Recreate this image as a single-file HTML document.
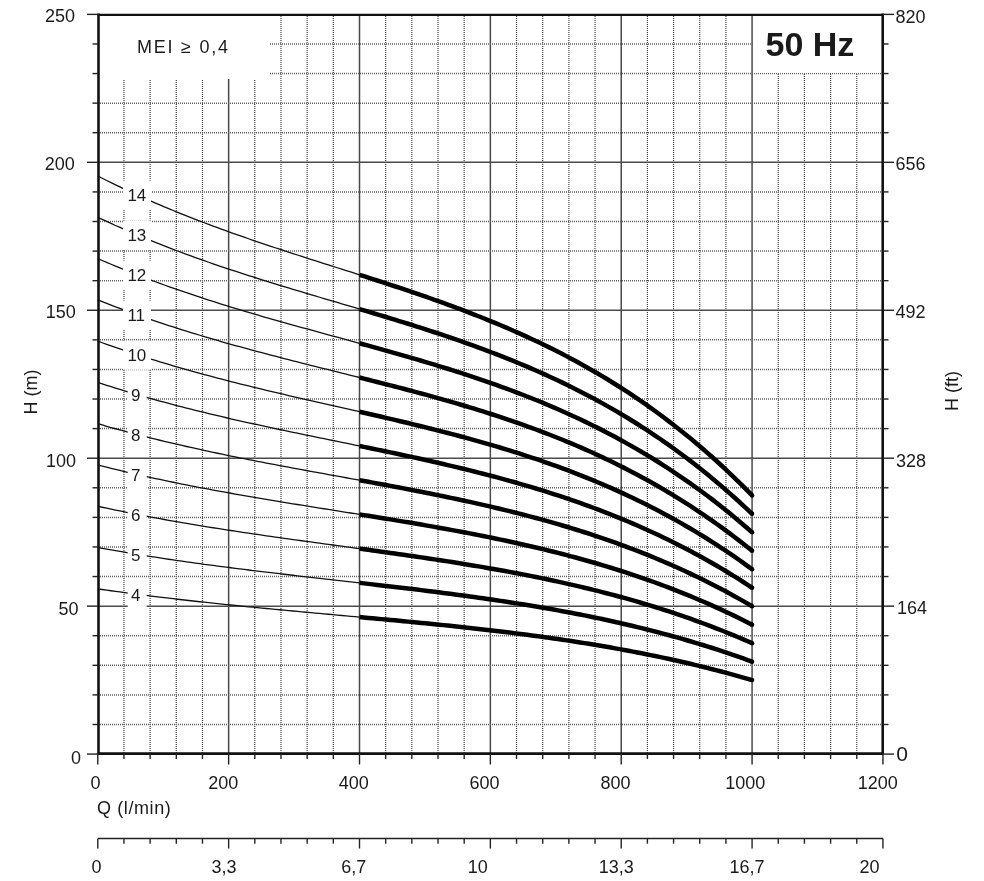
<!DOCTYPE html>
<html><head><meta charset="utf-8"><style>
html,body{margin:0;padding:0;background:#fff;}
body{width:984px;height:881px;position:relative;overflow:hidden;filter:grayscale(1);font-family:"Liberation Sans",sans-serif;color:#1a1a1a;}
</style></head><body>
<svg width="984" height="881" viewBox="0 0 984 881" style="position:absolute;left:0;top:0">
<line x1="123.95" y1="14" x2="123.95" y2="753" stroke="#3c3c3c" stroke-width="1.2" stroke-dasharray="1 1"/>
<line x1="150.12" y1="14" x2="150.12" y2="753" stroke="#3c3c3c" stroke-width="1.2" stroke-dasharray="1 1"/>
<line x1="176.30" y1="14" x2="176.30" y2="753" stroke="#3c3c3c" stroke-width="1.2" stroke-dasharray="1 1"/>
<line x1="202.47" y1="14" x2="202.47" y2="753" stroke="#3c3c3c" stroke-width="1.2" stroke-dasharray="1 1"/>
<line x1="228.64" y1="14" x2="228.64" y2="753" stroke="#4a4a4a" stroke-width="1.5"/>
<line x1="254.81" y1="14" x2="254.81" y2="753" stroke="#3c3c3c" stroke-width="1.2" stroke-dasharray="1 1"/>
<line x1="280.98" y1="14" x2="280.98" y2="753" stroke="#3c3c3c" stroke-width="1.2" stroke-dasharray="1 1"/>
<line x1="307.16" y1="14" x2="307.16" y2="753" stroke="#3c3c3c" stroke-width="1.2" stroke-dasharray="1 1"/>
<line x1="333.33" y1="14" x2="333.33" y2="753" stroke="#3c3c3c" stroke-width="1.2" stroke-dasharray="1 1"/>
<line x1="359.50" y1="14" x2="359.50" y2="753" stroke="#4a4a4a" stroke-width="1.5"/>
<line x1="385.67" y1="14" x2="385.67" y2="753" stroke="#3c3c3c" stroke-width="1.2" stroke-dasharray="1 1"/>
<line x1="411.84" y1="14" x2="411.84" y2="753" stroke="#3c3c3c" stroke-width="1.2" stroke-dasharray="1 1"/>
<line x1="438.02" y1="14" x2="438.02" y2="753" stroke="#3c3c3c" stroke-width="1.2" stroke-dasharray="1 1"/>
<line x1="464.19" y1="14" x2="464.19" y2="753" stroke="#3c3c3c" stroke-width="1.2" stroke-dasharray="1 1"/>
<line x1="490.36" y1="14" x2="490.36" y2="753" stroke="#4a4a4a" stroke-width="1.5"/>
<line x1="516.53" y1="14" x2="516.53" y2="753" stroke="#3c3c3c" stroke-width="1.2" stroke-dasharray="1 1"/>
<line x1="542.70" y1="14" x2="542.70" y2="753" stroke="#3c3c3c" stroke-width="1.2" stroke-dasharray="1 1"/>
<line x1="568.88" y1="14" x2="568.88" y2="753" stroke="#3c3c3c" stroke-width="1.2" stroke-dasharray="1 1"/>
<line x1="595.05" y1="14" x2="595.05" y2="753" stroke="#3c3c3c" stroke-width="1.2" stroke-dasharray="1 1"/>
<line x1="621.22" y1="14" x2="621.22" y2="753" stroke="#4a4a4a" stroke-width="1.5"/>
<line x1="647.39" y1="14" x2="647.39" y2="753" stroke="#3c3c3c" stroke-width="1.2" stroke-dasharray="1 1"/>
<line x1="673.56" y1="14" x2="673.56" y2="753" stroke="#3c3c3c" stroke-width="1.2" stroke-dasharray="1 1"/>
<line x1="699.74" y1="14" x2="699.74" y2="753" stroke="#3c3c3c" stroke-width="1.2" stroke-dasharray="1 1"/>
<line x1="725.91" y1="14" x2="725.91" y2="753" stroke="#3c3c3c" stroke-width="1.2" stroke-dasharray="1 1"/>
<line x1="752.08" y1="14" x2="752.08" y2="753" stroke="#4a4a4a" stroke-width="1.5"/>
<line x1="778.25" y1="14" x2="778.25" y2="753" stroke="#3c3c3c" stroke-width="1.2" stroke-dasharray="1 1"/>
<line x1="804.42" y1="14" x2="804.42" y2="753" stroke="#3c3c3c" stroke-width="1.2" stroke-dasharray="1 1"/>
<line x1="830.60" y1="14" x2="830.60" y2="753" stroke="#3c3c3c" stroke-width="1.2" stroke-dasharray="1 1"/>
<line x1="856.77" y1="14" x2="856.77" y2="753" stroke="#3c3c3c" stroke-width="1.2" stroke-dasharray="1 1"/>
<line x1="98" y1="724.49" x2="882" y2="724.49" stroke="#606060" stroke-width="1.5" stroke-dasharray="1 1"/>
<line x1="98" y1="694.90" x2="882" y2="694.90" stroke="#606060" stroke-width="1.5" stroke-dasharray="1 1"/>
<line x1="98" y1="665.32" x2="882" y2="665.32" stroke="#606060" stroke-width="1.5" stroke-dasharray="1 1"/>
<line x1="98" y1="635.73" x2="882" y2="635.73" stroke="#606060" stroke-width="1.5" stroke-dasharray="1 1"/>
<line x1="98" y1="606.14" x2="882" y2="606.14" stroke="#4a4a4a" stroke-width="1.5"/>
<line x1="98" y1="576.55" x2="882" y2="576.55" stroke="#606060" stroke-width="1.5" stroke-dasharray="1 1"/>
<line x1="98" y1="546.96" x2="882" y2="546.96" stroke="#606060" stroke-width="1.5" stroke-dasharray="1 1"/>
<line x1="98" y1="517.38" x2="882" y2="517.38" stroke="#606060" stroke-width="1.5" stroke-dasharray="1 1"/>
<line x1="98" y1="487.79" x2="882" y2="487.79" stroke="#606060" stroke-width="1.5" stroke-dasharray="1 1"/>
<line x1="98" y1="458.20" x2="882" y2="458.20" stroke="#4a4a4a" stroke-width="1.5"/>
<line x1="98" y1="428.61" x2="882" y2="428.61" stroke="#606060" stroke-width="1.5" stroke-dasharray="1 1"/>
<line x1="98" y1="399.02" x2="882" y2="399.02" stroke="#606060" stroke-width="1.5" stroke-dasharray="1 1"/>
<line x1="98" y1="369.44" x2="882" y2="369.44" stroke="#606060" stroke-width="1.5" stroke-dasharray="1 1"/>
<line x1="98" y1="339.85" x2="882" y2="339.85" stroke="#606060" stroke-width="1.5" stroke-dasharray="1 1"/>
<line x1="98" y1="310.26" x2="882" y2="310.26" stroke="#4a4a4a" stroke-width="1.5"/>
<line x1="98" y1="280.67" x2="882" y2="280.67" stroke="#606060" stroke-width="1.5" stroke-dasharray="1 1"/>
<line x1="98" y1="251.08" x2="882" y2="251.08" stroke="#606060" stroke-width="1.5" stroke-dasharray="1 1"/>
<line x1="98" y1="221.50" x2="882" y2="221.50" stroke="#606060" stroke-width="1.5" stroke-dasharray="1 1"/>
<line x1="98" y1="191.91" x2="882" y2="191.91" stroke="#606060" stroke-width="1.5" stroke-dasharray="1 1"/>
<line x1="98" y1="162.32" x2="882" y2="162.32" stroke="#4a4a4a" stroke-width="1.5"/>
<line x1="98" y1="132.73" x2="882" y2="132.73" stroke="#606060" stroke-width="1.5" stroke-dasharray="1 1"/>
<line x1="98" y1="103.14" x2="882" y2="103.14" stroke="#606060" stroke-width="1.5" stroke-dasharray="1 1"/>
<line x1="98" y1="73.56" x2="882" y2="73.56" stroke="#606060" stroke-width="1.5" stroke-dasharray="1 1"/>
<line x1="98" y1="43.97" x2="882" y2="43.97" stroke="#606060" stroke-width="1.5" stroke-dasharray="1 1"/>
<rect x="99" y="15" width="171" height="64" fill="#fff"/>
<rect x="753.5" y="15" width="128" height="58" fill="#fff"/>
<polyline points="97.78,588.85 102.22,589.50 106.65,590.13 111.09,590.76 115.52,591.37 119.96,591.98 124.40,592.59 128.83,593.18 133.27,593.77 137.70,594.34 142.14,594.91 146.58,595.48 151.01,596.03 155.45,596.58 159.88,597.13 164.32,597.66 168.75,598.19 173.19,598.72 177.63,599.23 182.06,599.74 186.50,600.25 190.93,600.75 195.37,601.24 199.81,601.73 204.24,602.21 208.68,602.69 213.11,603.16 217.55,603.63 221.99,604.09 226.42,604.55 230.86,605.01 235.29,605.46 239.73,605.91 244.17,606.35 248.60,606.79 253.04,607.22 257.47,607.66 261.91,608.09 266.35,608.51 270.78,608.94 275.22,609.36 279.65,609.77 284.09,610.19 288.53,610.61 292.96,611.02 297.40,611.43 301.83,611.84 306.27,612.24 310.70,612.65 315.14,613.06 319.58,613.46 324.01,613.86 328.45,614.27 332.88,614.67 337.32,615.07 341.76,615.48 346.19,615.88 350.63,616.28 355.06,616.69 359.50,617.09" fill="none" stroke="#111" stroke-width="1.3"/>
<polyline points="359.50,617.09 363.91,617.49 368.32,617.90 372.73,618.30 377.14,618.71 381.56,619.12 385.97,619.53 390.38,619.95 394.79,620.36 399.20,620.78 403.61,621.20 408.02,621.62 412.43,622.05 416.84,622.48 421.25,622.91 425.67,623.35 430.08,623.79 434.49,624.23 438.90,624.68 443.31,625.13 447.72,625.59 452.13,626.05 456.54,626.52 460.95,626.99 465.36,627.47 469.78,627.95 474.19,628.44 478.60,628.93 483.01,629.43 487.42,629.94 491.83,630.45 496.24,630.97 500.65,631.50 505.06,632.04 509.47,632.58 513.89,633.13 518.30,633.69 522.71,634.25 527.12,634.83 531.53,635.41 535.94,636.00 540.35,636.60 544.76,637.21 549.17,637.82 553.58,638.45 558.00,639.09 562.41,639.74 566.82,640.39 571.23,641.06 575.64,641.74 580.05,642.43 584.46,643.13 588.87,643.84 593.28,644.56 597.69,645.29 602.11,646.04 606.52,646.80 610.93,647.57 615.34,648.35 619.75,649.15 624.16,649.96 628.57,650.78 632.98,651.61 637.39,652.46 641.80,653.33 646.22,654.20 650.63,655.10 655.04,656.00 659.45,656.92 663.86,657.86 668.27,658.81 672.68,659.78 677.09,660.76 681.50,661.76 685.91,662.77 690.33,663.81 694.74,664.85 699.15,665.92 703.56,667.00 707.97,668.10 712.38,669.22 716.79,670.35 721.20,671.51 725.61,672.68 730.02,673.87 734.44,675.08 738.85,676.31 743.26,677.55 747.67,678.82 752.08,680.11" fill="none" stroke="#000" stroke-width="4.5" stroke-linejoin="round"/>
<circle cx="752.08" cy="680.11" r="2.25" fill="#000"/>
<polyline points="97.78,547.57 102.22,548.37 106.65,549.16 111.09,549.95 115.52,550.72 119.96,551.48 124.40,552.23 128.83,552.97 133.27,553.71 137.70,554.43 142.14,555.14 146.58,555.85 151.01,556.54 155.45,557.23 159.88,557.91 164.32,558.58 168.75,559.24 173.19,559.89 177.63,560.54 182.06,561.18 186.50,561.81 190.93,562.43 195.37,563.05 199.81,563.66 204.24,564.27 208.68,564.86 213.11,565.45 217.55,566.04 221.99,566.62 226.42,567.19 230.86,567.76 235.29,568.32 239.73,568.88 244.17,569.44 248.60,569.98 253.04,570.53 257.47,571.07 261.91,571.61 266.35,572.14 270.78,572.67 275.22,573.20 279.65,573.72 284.09,574.24 288.53,574.76 292.96,575.27 297.40,575.78 301.83,576.30 306.27,576.81 310.70,577.31 315.14,577.82 319.58,578.33 324.01,578.83 328.45,579.33 332.88,579.84 337.32,580.34 341.76,580.84 346.19,581.35 350.63,581.85 355.06,582.36 359.50,582.86" fill="none" stroke="#111" stroke-width="1.3"/>
<polyline points="359.50,582.86 363.91,583.37 368.32,583.87 372.73,584.38 377.14,584.89 381.56,585.40 385.97,585.92 390.38,586.43 394.79,586.95 399.20,587.47 403.61,588.00 408.02,588.53 412.43,589.06 416.84,589.60 421.25,590.14 425.67,590.68 430.08,591.23 434.49,591.79 438.90,592.35 443.31,592.91 447.72,593.49 452.13,594.06 456.54,594.65 460.95,595.24 465.36,595.83 469.78,596.44 474.19,597.05 478.60,597.67 483.01,598.29 487.42,598.93 491.83,599.57 496.24,600.22 500.65,600.88 505.06,601.55 509.47,602.22 513.89,602.91 518.30,603.61 522.71,604.31 527.12,605.03 531.53,605.76 535.94,606.50 540.35,607.25 544.76,608.01 549.17,608.78 553.58,609.56 558.00,610.36 562.41,611.17 566.82,611.99 571.23,612.82 575.64,613.67 580.05,614.53 584.46,615.41 588.87,616.30 593.28,617.20 597.69,618.12 602.11,619.05 606.52,620.00 610.93,620.96 615.34,621.94 619.75,622.93 624.16,623.95 628.57,624.97 632.98,626.02 637.39,627.08 641.80,628.16 646.22,629.25 650.63,630.37 655.04,631.50 659.45,632.65 663.86,633.82 668.27,635.01 672.68,636.22 677.09,637.45 681.50,638.70 685.91,639.97 690.33,641.26 694.74,642.57 699.15,643.90 703.56,645.25 707.97,646.63 712.38,648.02 716.79,649.44 721.20,650.88 725.61,652.35 730.02,653.84 734.44,655.35 738.85,656.88 743.26,658.44 747.67,660.03 752.08,661.64" fill="none" stroke="#000" stroke-width="4.5" stroke-linejoin="round"/>
<circle cx="752.08" cy="661.64" r="2.25" fill="#000"/>
<polyline points="97.78,506.28 102.22,507.24 106.65,508.20 111.09,509.14 115.52,510.06 119.96,510.98 124.40,511.88 128.83,512.77 133.27,513.65 137.70,514.52 142.14,515.37 146.58,516.22 151.01,517.05 155.45,517.88 159.88,518.69 164.32,519.49 168.75,520.29 173.19,521.07 177.63,521.85 182.06,522.61 186.50,523.37 190.93,524.12 195.37,524.86 199.81,525.59 204.24,526.32 208.68,527.03 213.11,527.74 217.55,528.45 221.99,529.14 226.42,529.83 230.86,530.51 235.29,531.19 239.73,531.86 244.17,532.52 248.60,533.18 253.04,533.84 257.47,534.48 261.91,535.13 266.35,535.77 270.78,536.40 275.22,537.03 279.65,537.66 284.09,538.29 288.53,538.91 292.96,539.53 297.40,540.14 301.83,540.76 306.27,541.37 310.70,541.98 315.14,542.58 319.58,543.19 324.01,543.80 328.45,544.40 332.88,545.01 337.32,545.61 341.76,546.21 346.19,546.82 350.63,547.42 355.06,548.03 359.50,548.64" fill="none" stroke="#111" stroke-width="1.3"/>
<polyline points="359.50,548.64 363.91,549.24 368.32,549.85 372.73,550.46 377.14,551.07 381.56,551.68 385.97,552.30 390.38,552.92 394.79,553.54 399.20,554.17 403.61,554.80 408.02,555.43 412.43,556.07 416.84,556.72 421.25,557.36 425.67,558.02 430.08,558.68 434.49,559.35 438.90,560.02 443.31,560.70 447.72,561.38 452.13,562.08 456.54,562.78 460.95,563.48 465.36,564.20 469.78,564.92 474.19,565.66 478.60,566.40 483.01,567.15 487.42,567.91 491.83,568.68 496.24,569.46 500.65,570.25 505.06,571.06 509.47,571.87 513.89,572.69 518.30,573.53 522.71,574.38 527.12,575.24 531.53,576.11 535.94,577.00 540.35,577.90 544.76,578.81 549.17,579.74 553.58,580.68 558.00,581.63 562.41,582.60 566.82,583.59 571.23,584.59 575.64,585.61 580.05,586.64 584.46,587.69 588.87,588.76 593.28,589.84 597.69,590.94 602.11,592.06 606.52,593.20 610.93,594.35 615.34,595.53 619.75,596.72 624.16,597.94 628.57,599.17 632.98,600.42 637.39,601.70 641.80,602.99 646.22,604.31 650.63,605.64 655.04,607.00 659.45,608.38 663.86,609.79 668.27,611.22 672.68,612.67 677.09,614.14 681.50,615.64 685.91,617.16 690.33,618.71 694.74,620.28 699.15,621.88 703.56,623.50 707.97,625.15 712.38,626.83 716.79,628.53 721.20,630.26 725.61,632.02 730.02,633.80 734.44,635.62 738.85,637.46 743.26,639.33 747.67,641.23 752.08,643.16" fill="none" stroke="#000" stroke-width="4.5" stroke-linejoin="round"/>
<circle cx="752.08" cy="643.16" r="2.25" fill="#000"/>
<polyline points="97.78,464.99 102.22,466.12 106.65,467.23 111.09,468.32 115.52,469.41 119.96,470.47 124.40,471.52 128.83,472.56 133.27,473.59 137.70,474.60 142.14,475.60 146.58,476.59 151.01,477.56 155.45,478.52 159.88,479.47 164.32,480.41 168.75,481.34 173.19,482.25 177.63,483.16 182.06,484.05 186.50,484.93 190.93,485.81 195.37,486.67 199.81,487.53 204.24,488.37 208.68,489.21 213.11,490.03 217.55,490.85 221.99,491.67 226.42,492.47 230.86,493.26 235.29,494.05 239.73,494.83 244.17,495.61 248.60,496.38 253.04,497.14 257.47,497.90 261.91,498.65 266.35,499.40 270.78,500.14 275.22,500.87 279.65,501.61 284.09,502.33 288.53,503.06 292.96,503.78 297.40,504.50 301.83,505.21 306.27,505.93 310.70,506.64 315.14,507.35 319.58,508.06 324.01,508.76 328.45,509.47 332.88,510.17 337.32,510.88 341.76,511.58 346.19,512.29 350.63,512.99 355.06,513.70 359.50,514.41" fill="none" stroke="#111" stroke-width="1.3"/>
<polyline points="359.50,514.41 363.91,515.11 368.32,515.82 372.73,516.53 377.14,517.25 381.56,517.96 385.97,518.68 390.38,519.40 394.79,520.13 399.20,520.86 403.61,521.60 408.02,522.34 412.43,523.08 416.84,523.83 421.25,524.59 425.67,525.36 430.08,526.13 434.49,526.90 438.90,527.69 443.31,528.48 447.72,529.28 452.13,530.09 456.54,530.91 460.95,531.73 465.36,532.57 469.78,533.41 474.19,534.27 478.60,535.13 483.01,536.01 487.42,536.90 491.83,537.80 496.24,538.71 500.65,539.63 505.06,540.56 509.47,541.51 513.89,542.48 518.30,543.45 522.71,544.44 527.12,545.44 531.53,546.46 535.94,547.50 540.35,548.55 544.76,549.61 549.17,550.69 553.58,551.79 558.00,552.90 562.41,554.04 566.82,555.19 571.23,556.35 575.64,557.54 580.05,558.75 584.46,559.97 588.87,561.22 593.28,562.48 597.69,563.77 602.11,565.07 606.52,566.40 610.93,567.75 615.34,569.12 619.75,570.51 624.16,571.92 628.57,573.36 632.98,574.83 637.39,576.31 641.80,577.82 646.22,579.36 650.63,580.92 655.04,582.50 659.45,584.12 663.86,585.75 668.27,587.42 672.68,589.11 677.09,590.83 681.50,592.58 685.91,594.35 690.33,596.16 694.74,597.99 699.15,599.86 703.56,601.75 707.97,603.68 712.38,605.63 716.79,607.62 721.20,609.64 725.61,611.69 730.02,613.77 734.44,615.89 738.85,618.04 743.26,620.22 747.67,622.44 752.08,624.69" fill="none" stroke="#000" stroke-width="4.5" stroke-linejoin="round"/>
<circle cx="752.08" cy="624.69" r="2.25" fill="#000"/>
<polyline points="97.78,423.71 102.22,424.99 106.65,426.26 111.09,427.51 115.52,428.75 119.96,429.97 124.40,431.17 128.83,432.36 133.27,433.53 137.70,434.69 142.14,435.83 146.58,436.96 151.01,438.07 155.45,439.17 159.88,440.25 164.32,441.33 168.75,442.38 173.19,443.43 177.63,444.46 182.06,445.49 186.50,446.50 190.93,447.49 195.37,448.48 199.81,449.46 204.24,450.42 208.68,451.38 213.11,452.33 217.55,453.26 221.99,454.19 226.42,455.11 230.86,456.02 235.29,456.92 239.73,457.81 244.17,458.70 248.60,459.58 253.04,460.45 257.47,461.31 261.91,462.17 266.35,463.02 270.78,463.87 275.22,464.71 279.65,465.55 284.09,466.38 288.53,467.21 292.96,468.03 297.40,468.86 301.83,469.67 306.27,470.49 310.70,471.30 315.14,472.11 319.58,472.92 324.01,473.73 328.45,474.53 332.88,475.34 337.32,476.15 341.76,476.95 346.19,477.76 350.63,478.56 355.06,479.37 359.50,480.18" fill="none" stroke="#111" stroke-width="1.3"/>
<polyline points="359.50,480.18 363.91,480.99 368.32,481.80 372.73,482.61 377.14,483.42 381.56,484.24 385.97,485.06 390.38,485.89 394.79,486.72 399.20,487.56 403.61,488.40 408.02,489.24 412.43,490.10 416.84,490.95 421.25,491.82 425.67,492.69 430.08,493.57 434.49,494.46 438.90,495.36 443.31,496.26 447.72,497.18 452.13,498.10 456.54,499.03 460.95,499.98 465.36,500.93 469.78,501.90 474.19,502.88 478.60,503.87 483.01,504.87 487.42,505.88 491.83,506.91 496.24,507.95 500.65,509.00 505.06,510.07 509.47,511.16 513.89,512.26 518.30,513.37 522.71,514.50 527.12,515.65 531.53,516.81 535.94,518.00 540.35,519.19 544.76,520.41 549.17,521.65 553.58,522.90 558.00,524.18 562.41,525.47 566.82,526.78 571.23,528.12 575.64,529.48 580.05,530.85 584.46,532.25 588.87,533.68 593.28,535.12 597.69,536.59 602.11,538.08 606.52,539.60 610.93,541.14 615.34,542.70 619.75,544.30 624.16,545.91 628.57,547.56 632.98,549.23 637.39,550.93 641.80,552.65 646.22,554.41 650.63,556.19 655.04,558.00 659.45,559.85 663.86,561.72 668.27,563.62 672.68,565.56 677.09,567.52 681.50,569.52 685.91,571.55 690.33,573.61 694.74,575.71 699.15,577.84 703.56,580.00 707.97,582.20 712.38,584.44 716.79,586.71 721.20,589.01 725.61,591.36 730.02,593.74 734.44,596.16 738.85,598.61 743.26,601.11 747.67,603.64 752.08,606.22" fill="none" stroke="#000" stroke-width="4.5" stroke-linejoin="round"/>
<circle cx="752.08" cy="606.22" r="2.25" fill="#000"/>
<polyline points="97.78,382.42 102.22,383.87 106.65,385.29 111.09,386.70 115.52,388.09 119.96,389.46 124.40,390.82 128.83,392.15 133.27,393.47 137.70,394.77 142.14,396.06 146.58,397.33 151.01,398.58 155.45,399.81 159.88,401.03 164.32,402.24 168.75,403.43 173.19,404.61 177.63,405.77 182.06,406.92 186.50,408.06 190.93,409.18 195.37,410.29 199.81,411.39 204.24,412.48 208.68,413.55 213.11,414.62 217.55,415.67 221.99,416.71 226.42,417.75 230.86,418.77 235.29,419.78 239.73,420.79 244.17,421.78 248.60,422.77 253.04,423.75 257.47,424.73 261.91,425.69 266.35,426.65 270.78,427.60 275.22,428.55 279.65,429.49 284.09,430.43 288.53,431.36 292.96,432.29 297.40,433.21 301.83,434.13 306.27,435.05 310.70,435.96 315.14,436.88 319.58,437.79 324.01,438.69 328.45,439.60 332.88,440.51 337.32,441.41 341.76,442.32 346.19,443.23 350.63,444.13 355.06,445.04 359.50,445.95" fill="none" stroke="#111" stroke-width="1.3"/>
<polyline points="359.50,445.95 363.91,446.86 368.32,447.77 372.73,448.69 377.14,449.60 381.56,450.52 385.97,451.45 390.38,452.38 394.79,453.31 399.20,454.25 403.61,455.20 408.02,456.15 412.43,457.11 416.84,458.07 421.25,459.05 425.67,460.03 430.08,461.02 434.49,462.02 438.90,463.03 443.31,464.05 447.72,465.07 452.13,466.11 456.54,467.16 460.95,468.23 465.36,469.30 469.78,470.39 474.19,471.49 478.60,472.60 483.01,473.73 487.42,474.87 491.83,476.02 496.24,477.19 500.65,478.38 505.06,479.58 509.47,480.80 513.89,482.04 518.30,483.29 522.71,484.57 527.12,485.86 531.53,487.17 535.94,488.50 540.35,489.84 544.76,491.21 549.17,492.60 553.58,494.02 558.00,495.45 562.41,496.90 566.82,498.38 571.23,499.88 575.64,501.41 580.05,502.96 584.46,504.53 588.87,506.13 593.28,507.76 597.69,509.41 602.11,511.09 606.52,512.80 610.93,514.53 615.34,516.29 619.75,518.08 624.16,519.90 628.57,521.75 632.98,523.63 637.39,525.54 641.80,527.49 646.22,529.46 650.63,531.47 655.04,533.50 659.45,535.58 663.86,537.68 668.27,539.82 672.68,542.00 677.09,544.21 681.50,546.46 685.91,548.74 690.33,551.06 694.74,553.42 699.15,555.82 703.56,558.25 707.97,560.73 712.38,563.24 716.79,565.80 721.20,568.39 725.61,571.03 730.02,573.71 734.44,576.43 738.85,579.19 743.26,582.00 747.67,584.85 752.08,587.75" fill="none" stroke="#000" stroke-width="4.5" stroke-linejoin="round"/>
<circle cx="752.08" cy="587.75" r="2.25" fill="#000"/>
<polyline points="97.78,341.13 102.22,342.74 106.65,344.33 111.09,345.89 115.52,347.44 119.96,348.96 124.40,350.46 128.83,351.95 133.27,353.41 137.70,354.86 142.14,356.29 146.58,357.69 151.01,359.09 155.45,360.46 159.88,361.82 164.32,363.16 168.75,364.48 173.19,365.79 177.63,367.08 182.06,368.36 186.50,369.62 190.93,370.87 195.37,372.10 199.81,373.32 204.24,374.53 208.68,375.72 213.11,376.91 217.55,378.08 221.99,379.24 226.42,380.38 230.86,381.52 235.29,382.65 239.73,383.76 244.17,384.87 248.60,385.97 253.04,387.06 257.47,388.14 261.91,389.21 266.35,390.28 270.78,391.34 275.22,392.39 279.65,393.44 284.09,394.48 288.53,395.51 292.96,396.54 297.40,397.57 301.83,398.59 306.27,399.61 310.70,400.63 315.14,401.64 319.58,402.65 324.01,403.66 328.45,404.67 332.88,405.68 337.32,406.68 341.76,407.69 346.19,408.70 350.63,409.70 355.06,410.71 359.50,411.73" fill="none" stroke="#111" stroke-width="1.3"/>
<polyline points="359.50,411.73 363.91,412.74 368.32,413.75 372.73,414.76 377.14,415.78 381.56,416.80 385.97,417.83 390.38,418.86 394.79,419.90 399.20,420.95 403.61,422.00 408.02,423.05 412.43,424.12 416.84,425.19 421.25,426.27 425.67,427.37 430.08,428.47 434.49,429.58 438.90,430.70 443.31,431.83 447.72,432.97 452.13,434.13 456.54,435.29 460.95,436.47 465.36,437.67 469.78,438.87 474.19,440.10 478.60,441.33 483.01,442.58 487.42,443.85 491.83,445.14 496.24,446.44 500.65,447.76 505.06,449.09 509.47,450.45 513.89,451.82 518.30,453.22 522.71,454.63 527.12,456.06 531.53,457.52 535.94,458.99 540.35,460.49 544.76,462.01 549.17,463.56 553.58,465.13 558.00,466.72 562.41,468.34 566.82,469.98 571.23,471.65 575.64,473.34 580.05,475.07 584.46,476.82 588.87,478.59 593.28,480.40 597.69,482.24 602.11,484.10 606.52,486.00 610.93,487.92 615.34,489.88 619.75,491.87 624.16,493.89 628.57,495.95 632.98,498.04 637.39,500.16 641.80,502.32 646.22,504.51 650.63,506.74 655.04,509.00 659.45,511.31 663.86,513.65 668.27,516.03 672.68,518.44 677.09,520.90 681.50,523.40 685.91,525.94 690.33,528.51 694.74,531.13 699.15,533.80 703.56,536.50 707.97,539.25 712.38,542.05 716.79,544.88 721.20,547.77 725.61,550.70 730.02,553.67 734.44,556.70 738.85,559.77 743.26,562.89 747.67,566.05 752.08,569.27" fill="none" stroke="#000" stroke-width="4.5" stroke-linejoin="round"/>
<circle cx="752.08" cy="569.27" r="2.25" fill="#000"/>
<polyline points="97.78,299.85 102.22,301.62 106.65,303.36 111.09,305.08 115.52,306.78 119.96,308.46 124.40,310.11 128.83,311.74 133.27,313.35 137.70,314.94 142.14,316.51 146.58,318.06 151.01,319.59 155.45,321.11 159.88,322.60 164.32,324.07 168.75,325.53 173.19,326.97 177.63,328.39 182.06,329.79 186.50,331.18 190.93,332.55 195.37,333.91 199.81,335.25 204.24,336.58 208.68,337.90 213.11,339.20 217.55,340.48 221.99,341.76 226.42,343.02 230.86,344.27 235.29,345.51 239.73,346.74 244.17,347.96 248.60,349.17 253.04,350.36 257.47,351.55 261.91,352.73 266.35,353.91 270.78,355.07 275.22,356.23 279.65,357.38 284.09,358.53 288.53,359.66 292.96,360.80 297.40,361.93 301.83,363.05 306.27,364.17 310.70,365.29 315.14,366.40 319.58,367.52 324.01,368.63 328.45,369.73 332.88,370.84 337.32,371.95 341.76,373.06 346.19,374.17 350.63,375.28 355.06,376.39 359.50,377.50" fill="none" stroke="#111" stroke-width="1.3"/>
<polyline points="359.50,377.50 363.91,378.61 368.32,379.72 372.73,380.84 377.14,381.96 381.56,383.08 385.97,384.21 390.38,385.35 394.79,386.49 399.20,387.64 403.61,388.80 408.02,389.96 412.43,391.13 416.84,392.31 421.25,393.50 425.67,394.70 430.08,395.91 434.49,397.13 438.90,398.37 443.31,399.61 447.72,400.87 452.13,402.14 456.54,403.42 460.95,404.72 465.36,406.03 469.78,407.36 474.19,408.71 478.60,410.07 483.01,411.44 487.42,412.84 491.83,414.25 496.24,415.68 500.65,417.13 505.06,418.60 509.47,420.09 513.89,421.60 518.30,423.14 522.71,424.69 527.12,426.27 531.53,427.87 535.94,429.49 540.35,431.14 544.76,432.82 549.17,434.52 553.58,436.24 558.00,437.99 562.41,439.77 566.82,441.58 571.23,443.41 575.64,445.28 580.05,447.17 584.46,449.10 588.87,451.05 593.28,453.04 597.69,455.06 602.11,457.11 606.52,459.20 610.93,461.31 615.34,463.47 619.75,465.66 624.16,467.88 628.57,470.14 632.98,472.44 637.39,474.77 641.80,477.15 646.22,479.56 650.63,482.01 655.04,484.51 659.45,487.04 663.86,489.61 668.27,492.23 672.68,494.89 677.09,497.59 681.50,500.34 685.91,503.13 690.33,505.97 694.74,508.85 699.15,511.78 703.56,514.75 707.97,517.78 712.38,520.85 716.79,523.97 721.20,527.14 725.61,530.37 730.02,533.64 734.44,536.97 738.85,540.34 743.26,543.78 747.67,547.26 752.08,550.80" fill="none" stroke="#000" stroke-width="4.5" stroke-linejoin="round"/>
<circle cx="752.08" cy="550.80" r="2.25" fill="#000"/>
<polyline points="97.78,258.56 102.22,260.49 106.65,262.39 111.09,264.27 115.52,266.12 119.96,267.95 124.40,269.76 128.83,271.54 133.27,273.30 137.70,275.03 142.14,276.74 146.58,278.43 151.01,280.10 155.45,281.75 159.88,283.38 164.32,284.99 168.75,286.58 173.19,288.15 177.63,289.70 182.06,291.23 186.50,292.74 190.93,294.24 195.37,295.72 199.81,297.19 204.24,298.64 208.68,300.07 213.11,301.49 217.55,302.89 221.99,304.28 226.42,305.66 230.86,307.02 235.29,308.38 239.73,309.72 244.17,311.05 248.60,312.36 253.04,313.67 257.47,314.97 261.91,316.26 266.35,317.53 270.78,318.81 275.22,320.07 279.65,321.32 284.09,322.57 288.53,323.82 292.96,325.05 297.40,326.28 301.83,327.51 306.27,328.73 310.70,329.95 315.14,331.17 319.58,332.38 324.01,333.59 328.45,334.80 332.88,336.01 337.32,337.22 341.76,338.43 346.19,339.64 350.63,340.85 355.06,342.06 359.50,343.27" fill="none" stroke="#111" stroke-width="1.3"/>
<polyline points="359.50,343.27 363.91,344.48 368.32,345.70 372.73,346.91 377.14,348.14 381.56,349.36 385.97,350.60 390.38,351.84 394.79,353.08 399.20,354.33 403.61,355.60 408.02,356.86 412.43,358.14 416.84,359.43 421.25,360.73 425.67,362.04 430.08,363.36 434.49,364.69 438.90,366.04 443.31,367.39 447.72,368.77 452.13,370.15 456.54,371.55 460.95,372.97 465.36,374.40 469.78,375.85 474.19,377.31 478.60,378.80 483.01,380.30 487.42,381.82 491.83,383.36 496.24,384.92 500.65,386.51 505.06,388.11 509.47,389.74 513.89,391.39 518.30,393.06 522.71,394.75 527.12,396.48 531.53,398.22 535.94,399.99 540.35,401.79 544.76,403.62 549.17,405.47 553.58,407.35 558.00,409.26 562.41,411.21 566.82,413.18 571.23,415.18 575.64,417.21 580.05,419.28 584.46,421.38 588.87,423.51 593.28,425.68 597.69,427.88 602.11,430.12 606.52,432.40 610.93,434.71 615.34,437.06 619.75,439.44 624.16,441.87 628.57,444.34 632.98,446.84 637.39,449.39 641.80,451.98 646.22,454.61 650.63,457.29 655.04,460.01 659.45,462.77 663.86,465.58 668.27,468.43 672.68,471.33 677.09,474.28 681.50,477.28 685.91,480.32 690.33,483.42 694.74,486.56 699.15,489.76 703.56,493.00 707.97,496.30 712.38,499.65 716.79,503.06 721.20,506.52 725.61,510.04 730.02,513.61 734.44,517.24 738.85,520.92 743.26,524.66 747.67,528.47 752.08,532.33" fill="none" stroke="#000" stroke-width="4.5" stroke-linejoin="round"/>
<circle cx="752.08" cy="532.33" r="2.25" fill="#000"/>
<polyline points="97.78,217.27 102.22,219.36 106.65,221.43 111.09,223.46 115.52,225.47 119.96,227.45 124.40,229.40 128.83,231.33 133.27,233.24 137.70,235.12 142.14,236.97 146.58,238.80 151.01,240.61 155.45,242.40 159.88,244.16 164.32,245.90 168.75,247.62 173.19,249.32 177.63,251.00 182.06,252.66 186.50,254.31 190.93,255.93 195.37,257.53 199.81,259.12 204.24,260.69 208.68,262.24 213.11,263.78 217.55,265.30 221.99,266.81 226.42,268.30 230.86,269.78 235.29,271.24 239.73,272.69 244.17,274.13 248.60,275.56 253.04,276.98 257.47,278.38 261.91,279.78 266.35,281.16 270.78,282.54 275.22,283.91 279.65,285.27 284.09,286.62 288.53,287.97 292.96,289.31 297.40,290.64 301.83,291.97 306.27,293.29 310.70,294.61 315.14,295.93 319.58,297.25 324.01,298.56 328.45,299.87 332.88,301.18 337.32,302.49 341.76,303.80 346.19,305.11 350.63,306.42 355.06,307.73 359.50,309.04" fill="none" stroke="#111" stroke-width="1.3"/>
<polyline points="359.50,309.04 363.91,310.36 368.32,311.67 372.73,312.99 377.14,314.31 381.56,315.64 385.97,316.98 390.38,318.32 394.79,319.67 399.20,321.03 403.61,322.39 408.02,323.77 412.43,325.16 416.84,326.55 421.25,327.96 425.67,329.38 430.08,330.81 434.49,332.25 438.90,333.71 443.31,335.18 447.72,336.66 452.13,338.16 456.54,339.68 460.95,341.22 465.36,342.77 469.78,344.34 474.19,345.92 478.60,347.53 483.01,349.16 487.42,350.81 491.83,352.48 496.24,354.17 500.65,355.88 505.06,357.62 509.47,359.38 513.89,361.17 518.30,362.98 522.71,364.82 527.12,366.68 531.53,368.57 535.94,370.49 540.35,372.44 544.76,374.42 549.17,376.43 553.58,378.47 558.00,380.54 562.41,382.64 566.82,384.78 571.23,386.94 575.64,389.15 580.05,391.39 584.46,393.66 588.87,395.97 593.28,398.32 597.69,400.71 602.11,403.13 606.52,405.60 610.93,408.10 615.34,410.64 619.75,413.23 624.16,415.86 628.57,418.53 632.98,421.25 637.39,424.01 641.80,426.81 646.22,429.66 650.63,432.56 655.04,435.51 659.45,438.50 663.86,441.54 668.27,444.63 672.68,447.78 677.09,450.97 681.50,454.22 685.91,457.52 690.33,460.87 694.74,464.27 699.15,467.74 703.56,471.25 707.97,474.83 712.38,478.46 716.79,482.15 721.20,485.90 725.61,489.71 730.02,493.57 734.44,497.50 738.85,501.50 743.26,505.55 747.67,509.67 752.08,513.85" fill="none" stroke="#000" stroke-width="4.5" stroke-linejoin="round"/>
<circle cx="752.08" cy="513.85" r="2.25" fill="#000"/>
<polyline points="97.78,175.99 102.22,178.24 106.65,180.46 111.09,182.65 115.52,184.81 119.96,186.94 124.40,189.05 128.83,191.13 133.27,193.18 137.70,195.20 142.14,197.20 146.58,199.17 151.01,201.12 155.45,203.04 159.88,204.94 164.32,206.82 168.75,208.67 173.19,210.50 177.63,212.31 182.06,214.10 186.50,215.87 190.93,217.62 195.37,219.34 199.81,221.05 204.24,222.74 208.68,224.41 213.11,226.07 217.55,227.71 221.99,229.33 226.42,230.94 230.86,232.53 235.29,234.11 239.73,235.67 244.17,237.22 248.60,238.76 253.04,240.28 257.47,241.80 261.91,243.30 266.35,244.79 270.78,246.27 275.22,247.75 279.65,249.21 284.09,250.67 288.53,252.12 292.96,253.56 297.40,255.00 301.83,256.43 306.27,257.86 310.70,259.28 315.14,260.70 319.58,262.11 324.01,263.52 328.45,264.94 332.88,266.35 337.32,267.75 341.76,269.16 346.19,270.58 350.63,271.99 355.06,273.40 359.50,274.82" fill="none" stroke="#111" stroke-width="1.3"/>
<polyline points="359.50,274.82 363.91,276.23 368.32,277.65 372.73,279.07 377.14,280.49 381.56,281.92 385.97,283.36 390.38,284.81 394.79,286.26 399.20,287.72 403.61,289.19 408.02,290.68 412.43,292.17 416.84,293.67 421.25,295.18 425.67,296.71 430.08,298.25 434.49,299.81 438.90,301.38 443.31,302.96 447.72,304.56 452.13,306.18 456.54,307.81 460.95,309.46 465.36,311.13 469.78,312.82 474.19,314.53 478.60,316.26 483.01,318.02 487.42,319.79 491.83,321.59 496.24,323.41 500.65,325.26 505.06,327.13 509.47,329.03 513.89,330.95 518.30,332.90 522.71,334.88 527.12,336.89 531.53,338.93 535.94,340.99 540.35,343.09 544.76,345.22 549.17,347.38 553.58,349.58 558.00,351.81 562.41,354.07 566.82,356.37 571.23,358.71 575.64,361.08 580.05,363.49 584.46,365.94 588.87,368.43 593.28,370.96 597.69,373.53 602.11,376.14 606.52,378.79 610.93,381.49 615.34,384.23 619.75,387.02 624.16,389.85 628.57,392.73 632.98,395.65 637.39,398.62 641.80,401.64 646.22,404.71 650.63,407.83 655.04,411.01 659.45,414.23 663.86,417.51 668.27,420.84 672.68,424.22 677.09,427.66 681.50,431.16 685.91,434.71 690.33,438.32 694.74,441.99 699.15,445.72 703.56,449.50 707.97,453.35 712.38,457.26 716.79,461.24 721.20,465.27 725.61,469.38 730.02,473.54 734.44,477.77 738.85,482.07 743.26,486.44 747.67,490.88 752.08,495.38" fill="none" stroke="#000" stroke-width="4.5" stroke-linejoin="round"/>
<circle cx="752.08" cy="495.38" r="2.25" fill="#000"/>
<rect x="127.7" y="580.7" width="19" height="29" fill="#fff"/>
<rect x="127.7" y="540.7" width="19" height="29" fill="#fff"/>
<rect x="127.7" y="500.7" width="19" height="29" fill="#fff"/>
<rect x="127.7" y="460.7" width="19" height="29" fill="#fff"/>
<rect x="127.7" y="420.7" width="19" height="29" fill="#fff"/>
<rect x="127.7" y="380.7" width="19" height="29" fill="#fff"/>
<rect x="123" y="340.7" width="28" height="29" fill="#fff"/>
<rect x="123" y="300.7" width="28" height="29" fill="#fff"/>
<rect x="123" y="260.7" width="28" height="29" fill="#fff"/>
<rect x="123" y="220.7" width="28" height="29" fill="#fff"/>
<rect x="123" y="180.7" width="28" height="29" fill="#fff"/>
<line x1="98.5" y1="13.5" x2="98.5" y2="754.5" stroke="#111" stroke-width="2.6"/>
<line x1="882.7" y1="13.5" x2="882.7" y2="754.5" stroke="#111" stroke-width="2.6"/>
<line x1="98" y1="14.9" x2="883" y2="14.9" stroke="#111" stroke-width="2.2"/>
<line x1="98" y1="753.6" x2="883" y2="753.6" stroke="#111" stroke-width="2.6"/>
<line x1="87" y1="754.08" x2="98" y2="754.08" stroke="#222" stroke-width="1.4"/>
<line x1="883" y1="754.08" x2="894" y2="754.08" stroke="#222" stroke-width="1.4"/>
<line x1="92.5" y1="724.49" x2="98" y2="724.49" stroke="#222" stroke-width="1.4"/>
<line x1="883" y1="724.49" x2="888.5" y2="724.49" stroke="#222" stroke-width="1.4"/>
<line x1="92.5" y1="694.90" x2="98" y2="694.90" stroke="#222" stroke-width="1.4"/>
<line x1="883" y1="694.90" x2="888.5" y2="694.90" stroke="#222" stroke-width="1.4"/>
<line x1="92.5" y1="665.32" x2="98" y2="665.32" stroke="#222" stroke-width="1.4"/>
<line x1="883" y1="665.32" x2="888.5" y2="665.32" stroke="#222" stroke-width="1.4"/>
<line x1="92.5" y1="635.73" x2="98" y2="635.73" stroke="#222" stroke-width="1.4"/>
<line x1="883" y1="635.73" x2="888.5" y2="635.73" stroke="#222" stroke-width="1.4"/>
<line x1="87" y1="606.14" x2="98" y2="606.14" stroke="#222" stroke-width="1.4"/>
<line x1="883" y1="606.14" x2="894" y2="606.14" stroke="#222" stroke-width="1.4"/>
<line x1="92.5" y1="576.55" x2="98" y2="576.55" stroke="#222" stroke-width="1.4"/>
<line x1="883" y1="576.55" x2="888.5" y2="576.55" stroke="#222" stroke-width="1.4"/>
<line x1="92.5" y1="546.96" x2="98" y2="546.96" stroke="#222" stroke-width="1.4"/>
<line x1="883" y1="546.96" x2="888.5" y2="546.96" stroke="#222" stroke-width="1.4"/>
<line x1="92.5" y1="517.38" x2="98" y2="517.38" stroke="#222" stroke-width="1.4"/>
<line x1="883" y1="517.38" x2="888.5" y2="517.38" stroke="#222" stroke-width="1.4"/>
<line x1="92.5" y1="487.79" x2="98" y2="487.79" stroke="#222" stroke-width="1.4"/>
<line x1="883" y1="487.79" x2="888.5" y2="487.79" stroke="#222" stroke-width="1.4"/>
<line x1="87" y1="458.20" x2="98" y2="458.20" stroke="#222" stroke-width="1.4"/>
<line x1="883" y1="458.20" x2="894" y2="458.20" stroke="#222" stroke-width="1.4"/>
<line x1="92.5" y1="428.61" x2="98" y2="428.61" stroke="#222" stroke-width="1.4"/>
<line x1="883" y1="428.61" x2="888.5" y2="428.61" stroke="#222" stroke-width="1.4"/>
<line x1="92.5" y1="399.02" x2="98" y2="399.02" stroke="#222" stroke-width="1.4"/>
<line x1="883" y1="399.02" x2="888.5" y2="399.02" stroke="#222" stroke-width="1.4"/>
<line x1="92.5" y1="369.44" x2="98" y2="369.44" stroke="#222" stroke-width="1.4"/>
<line x1="883" y1="369.44" x2="888.5" y2="369.44" stroke="#222" stroke-width="1.4"/>
<line x1="92.5" y1="339.85" x2="98" y2="339.85" stroke="#222" stroke-width="1.4"/>
<line x1="883" y1="339.85" x2="888.5" y2="339.85" stroke="#222" stroke-width="1.4"/>
<line x1="87" y1="310.26" x2="98" y2="310.26" stroke="#222" stroke-width="1.4"/>
<line x1="883" y1="310.26" x2="894" y2="310.26" stroke="#222" stroke-width="1.4"/>
<line x1="92.5" y1="280.67" x2="98" y2="280.67" stroke="#222" stroke-width="1.4"/>
<line x1="883" y1="280.67" x2="888.5" y2="280.67" stroke="#222" stroke-width="1.4"/>
<line x1="92.5" y1="251.08" x2="98" y2="251.08" stroke="#222" stroke-width="1.4"/>
<line x1="883" y1="251.08" x2="888.5" y2="251.08" stroke="#222" stroke-width="1.4"/>
<line x1="92.5" y1="221.50" x2="98" y2="221.50" stroke="#222" stroke-width="1.4"/>
<line x1="883" y1="221.50" x2="888.5" y2="221.50" stroke="#222" stroke-width="1.4"/>
<line x1="92.5" y1="191.91" x2="98" y2="191.91" stroke="#222" stroke-width="1.4"/>
<line x1="883" y1="191.91" x2="888.5" y2="191.91" stroke="#222" stroke-width="1.4"/>
<line x1="87" y1="162.32" x2="98" y2="162.32" stroke="#222" stroke-width="1.4"/>
<line x1="883" y1="162.32" x2="894" y2="162.32" stroke="#222" stroke-width="1.4"/>
<line x1="92.5" y1="132.73" x2="98" y2="132.73" stroke="#222" stroke-width="1.4"/>
<line x1="883" y1="132.73" x2="888.5" y2="132.73" stroke="#222" stroke-width="1.4"/>
<line x1="92.5" y1="103.14" x2="98" y2="103.14" stroke="#222" stroke-width="1.4"/>
<line x1="883" y1="103.14" x2="888.5" y2="103.14" stroke="#222" stroke-width="1.4"/>
<line x1="92.5" y1="73.56" x2="98" y2="73.56" stroke="#222" stroke-width="1.4"/>
<line x1="883" y1="73.56" x2="888.5" y2="73.56" stroke="#222" stroke-width="1.4"/>
<line x1="92.5" y1="43.97" x2="98" y2="43.97" stroke="#222" stroke-width="1.4"/>
<line x1="883" y1="43.97" x2="888.5" y2="43.97" stroke="#222" stroke-width="1.4"/>
<line x1="87" y1="14.38" x2="98" y2="14.38" stroke="#222" stroke-width="1.4"/>
<line x1="883" y1="14.38" x2="894" y2="14.38" stroke="#222" stroke-width="1.4"/>
<line x1="97.78" y1="753" x2="97.78" y2="764.5" stroke="#222" stroke-width="1.4"/>
<line x1="97.78" y1="838.5" x2="97.78" y2="848.5" stroke="#222" stroke-width="1.4"/>
<line x1="123.95" y1="753" x2="123.95" y2="759.0" stroke="#222" stroke-width="1.4"/>
<line x1="123.95" y1="838.5" x2="123.95" y2="843.7" stroke="#222" stroke-width="1.4"/>
<line x1="150.12" y1="753" x2="150.12" y2="759.0" stroke="#222" stroke-width="1.4"/>
<line x1="150.12" y1="838.5" x2="150.12" y2="843.7" stroke="#222" stroke-width="1.4"/>
<line x1="176.30" y1="753" x2="176.30" y2="759.0" stroke="#222" stroke-width="1.4"/>
<line x1="176.30" y1="838.5" x2="176.30" y2="843.7" stroke="#222" stroke-width="1.4"/>
<line x1="202.47" y1="753" x2="202.47" y2="759.0" stroke="#222" stroke-width="1.4"/>
<line x1="202.47" y1="838.5" x2="202.47" y2="843.7" stroke="#222" stroke-width="1.4"/>
<line x1="228.64" y1="753" x2="228.64" y2="764.5" stroke="#222" stroke-width="1.4"/>
<line x1="228.64" y1="838.5" x2="228.64" y2="848.5" stroke="#222" stroke-width="1.4"/>
<line x1="254.81" y1="753" x2="254.81" y2="759.0" stroke="#222" stroke-width="1.4"/>
<line x1="254.81" y1="838.5" x2="254.81" y2="843.7" stroke="#222" stroke-width="1.4"/>
<line x1="280.98" y1="753" x2="280.98" y2="759.0" stroke="#222" stroke-width="1.4"/>
<line x1="280.98" y1="838.5" x2="280.98" y2="843.7" stroke="#222" stroke-width="1.4"/>
<line x1="307.16" y1="753" x2="307.16" y2="759.0" stroke="#222" stroke-width="1.4"/>
<line x1="307.16" y1="838.5" x2="307.16" y2="843.7" stroke="#222" stroke-width="1.4"/>
<line x1="333.33" y1="753" x2="333.33" y2="759.0" stroke="#222" stroke-width="1.4"/>
<line x1="333.33" y1="838.5" x2="333.33" y2="843.7" stroke="#222" stroke-width="1.4"/>
<line x1="359.50" y1="753" x2="359.50" y2="764.5" stroke="#222" stroke-width="1.4"/>
<line x1="359.50" y1="838.5" x2="359.50" y2="848.5" stroke="#222" stroke-width="1.4"/>
<line x1="385.67" y1="753" x2="385.67" y2="759.0" stroke="#222" stroke-width="1.4"/>
<line x1="385.67" y1="838.5" x2="385.67" y2="843.7" stroke="#222" stroke-width="1.4"/>
<line x1="411.84" y1="753" x2="411.84" y2="759.0" stroke="#222" stroke-width="1.4"/>
<line x1="411.84" y1="838.5" x2="411.84" y2="843.7" stroke="#222" stroke-width="1.4"/>
<line x1="438.02" y1="753" x2="438.02" y2="759.0" stroke="#222" stroke-width="1.4"/>
<line x1="438.02" y1="838.5" x2="438.02" y2="843.7" stroke="#222" stroke-width="1.4"/>
<line x1="464.19" y1="753" x2="464.19" y2="759.0" stroke="#222" stroke-width="1.4"/>
<line x1="464.19" y1="838.5" x2="464.19" y2="843.7" stroke="#222" stroke-width="1.4"/>
<line x1="490.36" y1="753" x2="490.36" y2="764.5" stroke="#222" stroke-width="1.4"/>
<line x1="490.36" y1="838.5" x2="490.36" y2="848.5" stroke="#222" stroke-width="1.4"/>
<line x1="516.53" y1="753" x2="516.53" y2="759.0" stroke="#222" stroke-width="1.4"/>
<line x1="516.53" y1="838.5" x2="516.53" y2="843.7" stroke="#222" stroke-width="1.4"/>
<line x1="542.70" y1="753" x2="542.70" y2="759.0" stroke="#222" stroke-width="1.4"/>
<line x1="542.70" y1="838.5" x2="542.70" y2="843.7" stroke="#222" stroke-width="1.4"/>
<line x1="568.88" y1="753" x2="568.88" y2="759.0" stroke="#222" stroke-width="1.4"/>
<line x1="568.88" y1="838.5" x2="568.88" y2="843.7" stroke="#222" stroke-width="1.4"/>
<line x1="595.05" y1="753" x2="595.05" y2="759.0" stroke="#222" stroke-width="1.4"/>
<line x1="595.05" y1="838.5" x2="595.05" y2="843.7" stroke="#222" stroke-width="1.4"/>
<line x1="621.22" y1="753" x2="621.22" y2="764.5" stroke="#222" stroke-width="1.4"/>
<line x1="621.22" y1="838.5" x2="621.22" y2="848.5" stroke="#222" stroke-width="1.4"/>
<line x1="647.39" y1="753" x2="647.39" y2="759.0" stroke="#222" stroke-width="1.4"/>
<line x1="647.39" y1="838.5" x2="647.39" y2="843.7" stroke="#222" stroke-width="1.4"/>
<line x1="673.56" y1="753" x2="673.56" y2="759.0" stroke="#222" stroke-width="1.4"/>
<line x1="673.56" y1="838.5" x2="673.56" y2="843.7" stroke="#222" stroke-width="1.4"/>
<line x1="699.74" y1="753" x2="699.74" y2="759.0" stroke="#222" stroke-width="1.4"/>
<line x1="699.74" y1="838.5" x2="699.74" y2="843.7" stroke="#222" stroke-width="1.4"/>
<line x1="725.91" y1="753" x2="725.91" y2="759.0" stroke="#222" stroke-width="1.4"/>
<line x1="725.91" y1="838.5" x2="725.91" y2="843.7" stroke="#222" stroke-width="1.4"/>
<line x1="752.08" y1="753" x2="752.08" y2="764.5" stroke="#222" stroke-width="1.4"/>
<line x1="752.08" y1="838.5" x2="752.08" y2="848.5" stroke="#222" stroke-width="1.4"/>
<line x1="778.25" y1="753" x2="778.25" y2="759.0" stroke="#222" stroke-width="1.4"/>
<line x1="778.25" y1="838.5" x2="778.25" y2="843.7" stroke="#222" stroke-width="1.4"/>
<line x1="804.42" y1="753" x2="804.42" y2="759.0" stroke="#222" stroke-width="1.4"/>
<line x1="804.42" y1="838.5" x2="804.42" y2="843.7" stroke="#222" stroke-width="1.4"/>
<line x1="830.60" y1="753" x2="830.60" y2="759.0" stroke="#222" stroke-width="1.4"/>
<line x1="830.60" y1="838.5" x2="830.60" y2="843.7" stroke="#222" stroke-width="1.4"/>
<line x1="856.77" y1="753" x2="856.77" y2="759.0" stroke="#222" stroke-width="1.4"/>
<line x1="856.77" y1="838.5" x2="856.77" y2="843.7" stroke="#222" stroke-width="1.4"/>
<line x1="882.94" y1="753" x2="882.94" y2="764.5" stroke="#222" stroke-width="1.4"/>
<line x1="882.94" y1="838.5" x2="882.94" y2="848.5" stroke="#222" stroke-width="1.4"/>
<line x1="98" y1="838.5" x2="883" y2="838.5" stroke="#222" stroke-width="1.6"/>
</svg>
<div style="position:absolute;left:44.9px;top:7.3px;font-size:18px;line-height:1;white-space:nowrap;">250</div><div style="position:absolute;left:44.8px;top:154.9px;font-size:18px;line-height:1;white-space:nowrap;">200</div><div style="position:absolute;left:45.7px;top:303.1px;font-size:18px;line-height:1;white-space:nowrap;">150</div><div style="position:absolute;left:45.9px;top:451.7px;font-size:18px;line-height:1;white-space:nowrap;">100</div><div style="position:absolute;left:58.5px;top:599.7px;font-size:18px;line-height:1;white-space:nowrap;">50</div><div style="position:absolute;left:71.0px;top:748.5px;font-size:18px;line-height:1;white-space:nowrap;">0</div><div style="position:absolute;left:895.4px;top:7.5px;font-size:18px;line-height:1;white-space:nowrap;">820</div><div style="position:absolute;left:895.4px;top:154.7px;font-size:18px;line-height:1;white-space:nowrap;">656</div><div style="position:absolute;left:895.4px;top:303.1px;font-size:18px;line-height:1;white-space:nowrap;">492</div><div style="position:absolute;left:896.0px;top:451.7px;font-size:18px;line-height:1;white-space:nowrap;">328</div><div style="position:absolute;left:897.0px;top:598.9px;font-size:18px;line-height:1;white-space:nowrap;">164</div><div style="position:absolute;left:896.2px;top:743.3px;font-size:21px;line-height:1;white-space:nowrap;">0</div><div style="position:absolute;left:90.4px;top:773.5px;font-size:18px;line-height:1;white-space:nowrap;">0</div><div style="position:absolute;left:208.3px;top:773.5px;font-size:18px;line-height:1;white-space:nowrap;">200</div><div style="position:absolute;left:338.8px;top:773.5px;font-size:18px;line-height:1;white-space:nowrap;">400</div><div style="position:absolute;left:469.5px;top:773.5px;font-size:18px;line-height:1;white-space:nowrap;">600</div><div style="position:absolute;left:600.5px;top:773.5px;font-size:18px;line-height:1;white-space:nowrap;">800</div><div style="position:absolute;left:725.3px;top:773.5px;font-size:18px;line-height:1;white-space:nowrap;">1000</div><div style="position:absolute;left:857.8px;top:773.5px;font-size:18px;line-height:1;white-space:nowrap;">1200</div><div style="position:absolute;left:91.4px;top:857.5px;font-size:18px;line-height:1;white-space:nowrap;">0</div><div style="position:absolute;left:211.4px;top:857.5px;font-size:18px;line-height:1;white-space:nowrap;">3,3</div><div style="position:absolute;left:341.2px;top:857.5px;font-size:18px;line-height:1;white-space:nowrap;">6,7</div><div style="position:absolute;left:467.8px;top:857.5px;font-size:18px;line-height:1;white-space:nowrap;">10</div><div style="position:absolute;left:598.8px;top:857.5px;font-size:18px;line-height:1;white-space:nowrap;">13,3</div><div style="position:absolute;left:729.5px;top:857.5px;font-size:18px;line-height:1;white-space:nowrap;">16,7</div><div style="position:absolute;left:859.5px;top:857.5px;font-size:18px;line-height:1;white-space:nowrap;">20</div><div style="position:absolute;left:97.0px;top:799.3px;font-size:18px;line-height:1;white-space:nowrap;letter-spacing:0.6px;">Q (l/min)</div><div style="position:absolute;left:137.0px;top:37.9px;font-size:18px;line-height:1;white-space:nowrap;letter-spacing:1.75px;">MEI &#8805; 0,4</div><div style="position:absolute;left:765.5px;top:26.5px;font-size:34px;line-height:1;white-space:nowrap;font-weight:bold;">50 Hz</div><div style="position:absolute;left:131.0px;top:586.8px;font-size:17px;line-height:1;white-space:nowrap;">4</div><div style="position:absolute;left:131.0px;top:546.8px;font-size:17px;line-height:1;white-space:nowrap;">5</div><div style="position:absolute;left:131.0px;top:506.8px;font-size:17px;line-height:1;white-space:nowrap;">6</div><div style="position:absolute;left:131.0px;top:466.8px;font-size:17px;line-height:1;white-space:nowrap;">7</div><div style="position:absolute;left:131.0px;top:426.8px;font-size:17px;line-height:1;white-space:nowrap;">8</div><div style="position:absolute;left:131.0px;top:386.8px;font-size:17px;line-height:1;white-space:nowrap;">9</div><div style="position:absolute;left:127.4px;top:346.8px;font-size:17px;line-height:1;white-space:nowrap;">10</div><div style="position:absolute;left:127.4px;top:306.8px;font-size:17px;line-height:1;white-space:nowrap;">11</div><div style="position:absolute;left:127.4px;top:266.8px;font-size:17px;line-height:1;white-space:nowrap;">12</div><div style="position:absolute;left:127.4px;top:226.8px;font-size:17px;line-height:1;white-space:nowrap;">13</div><div style="position:absolute;left:127.4px;top:186.8px;font-size:17px;line-height:1;white-space:nowrap;">14</div><div style="position:absolute;left:30.5px;top:391.6px;font-size:18px;line-height:1;white-space:nowrap;transform:translate(-50%,-50%) rotate(-90deg);">H (m)</div><div style="position:absolute;left:951.5px;top:390.5px;font-size:18px;line-height:1;white-space:nowrap;transform:translate(-50%,-50%) rotate(-90deg);">H (ft)</div>
</body></html>
